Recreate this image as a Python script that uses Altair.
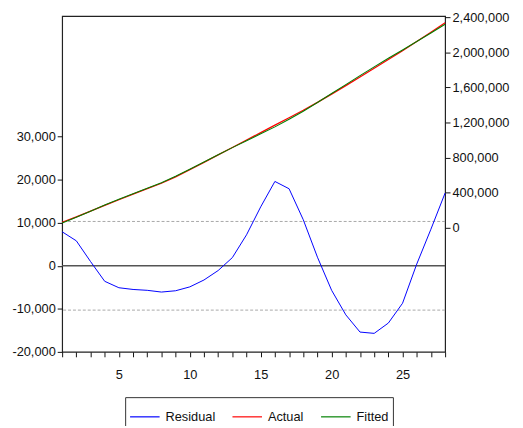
import altair as alt
import pandas as pd

t = list(range(1, 29))
actual = [60000, 123000, 188000, 254000, 318000, 381000, 444000, 506000, 580000, 662000,
          745000, 830000, 915000, 1000000, 1085000, 1170000, 1255000, 1340000, 1430000, 1525000,
          1622000, 1720000, 1820000, 1920000, 2020000, 2125000, 2232000, 2340000]
fitted = [52100, 117200, 187000, 257600, 323100, 386500, 449700, 512100, 585800, 666900,
          748300, 831100, 913100, 992800, 1071300, 1150400, 1237100, 1329300, 1428000, 1530700,
          1633400, 1735400, 1835700, 1933300, 2028700, 2124600, 2223500, 2323100]
residual = [7900, 5800, 1000, -3600, -5100, -5500, -5700, -6100, -5800, -4900,
            -3300, -1100, 1900, 7200, 13700, 19600, 17900, 10700, 2000, -5700,
            -11400, -15400, -15700, -13300, -8700, 400, 8500, 16900]
se_band = [10300, -10300]
zero_line = [0]
left_ticks = [-20000, -10000, 0, 10000, 20000, 30000]
right_ticks = [0, 400000, 800000, 1200000, 1600000, 2000000, 2400000]
names = ["Residual", "Actual", "Fitted"]
colors = ["#0000ff", "#ff0000", "#008000"]

FONT = "Liberation Sans"
NUM_EXPR = "(datum.value < 0 ? '-' : '') + format(abs(datum.value), ',.0f')"

df_res = pd.DataFrame({"t": t, "value": residual, "series": "Residual"})
df_act = pd.DataFrame({"t": t, "value": actual, "series": "Actual"})
df_fit = pd.DataFrame({"t": t, "value": fitted, "series": "Fitted"})
df_band = pd.DataFrame({"value": se_band})
df_zero = pd.DataFrame({"value": zero_line})

color_scale = alt.Scale(domain=names, range=colors)
legend = alt.Legend(
    orient="none", legendX=64, legendY=387, direction="horizontal", title=None,
    symbolType="stroke", symbolSize=900, symbolStrokeWidth=1.2,
    strokeColor="#333333", fillColor="white", padding=4,
    columnPadding=14, labelFontSize=13, labelFont=FONT, labelOffset=5,
    labelColor="#111111",
)
color_enc = alt.Color("series:N", scale=color_scale, legend=legend)

x_enc = alt.X(
    "t:Q",
    scale=alt.Scale(domain=[1, 28], nice=False, zero=False),
    axis=alt.Axis(values=t, labelExpr="datum.value % 5 == 0 ? datum.label : ''",
                  grid=False, tickSize=5, labelPadding=12, domain=False),
    title=None,
)

left_scale = alt.Scale(domain=[-20000, 58000], nice=False, zero=False)
left_axis = alt.Axis(values=left_ticks, labelExpr=NUM_EXPR, grid=False, tickSize=5,
                     labelPadding=2, domain=False)
y_left = alt.Y("value:Q", scale=left_scale, axis=left_axis, title=None)

right_scale = alt.Scale(domain=[-1420000, 2415000], nice=False, zero=False)
right_axis = alt.Axis(values=right_ticks, labelExpr=NUM_EXPR, grid=False, tickSize=5,
                      labelPadding=2, orient="right", domain=False)
y_right = alt.Y("value:Q", scale=right_scale, axis=right_axis, title=None)

band = alt.Chart(df_band).mark_rule(color="#a8a8a8", strokeWidth=1, strokeDash=[3, 2]).encode(y=y_left)
zero = alt.Chart(df_zero).mark_rule(color="#555555", strokeWidth=1.6).encode(y=y_left)
res_line = alt.Chart(df_res).mark_line(strokeWidth=1).encode(x=x_enc, y=y_left, color=color_enc)

left_layer = alt.layer(band, zero, res_line)

act_line = alt.Chart(df_act).mark_line(strokeWidth=1.3).encode(x=x_enc, y=y_right, color=color_enc)
fit_line = alt.Chart(df_fit).mark_line(strokeWidth=1.1).encode(x=x_enc, y=y_right, color=color_enc)
right_layer = alt.layer(act_line, fit_line)

chart = (
    alt.layer(left_layer, right_layer)
    .resolve_scale(y="independent", color="shared")
    .properties(
        width=389, height=341,
        autosize=alt.AutoSizeParams(type="none"),
        padding={"left": 55, "top": 5, "right": 71, "bottom": 72},
    )
    .configure_view(stroke="#222222", strokeWidth=1.2)
    .configure_axis(
        labelFont=FONT, labelFontSize=13, labelColor="#111111",
        tickColor="#111111", tickWidth=1,
    )
)

chart.save("out.html", embed_options={"renderer": "svg", "actions": False})
